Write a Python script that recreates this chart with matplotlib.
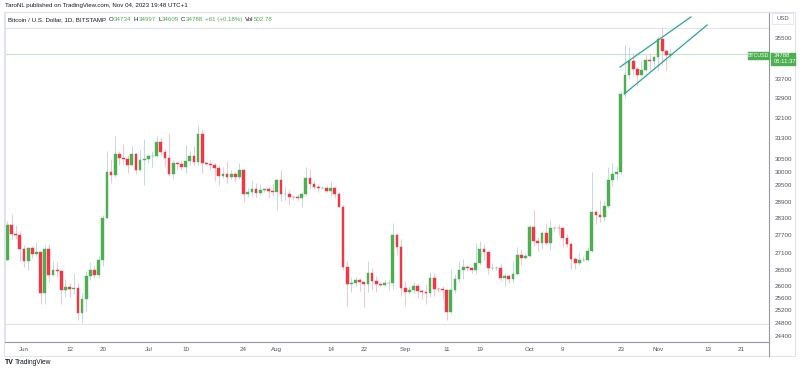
import numpy as np
import pandas as pd
import matplotlib
matplotlib.use('Agg')
import matplotlib.pyplot as plt
import matplotlib.dates as mdates
from matplotlib.patches import Rectangle
from matplotlib.lines import Line2D

plt.rcParams['font.family'] = ['Liberation Sans', 'DejaVu Sans']

# BTCUSD daily, Bitstamp, 28 May - 4 Nov 2023
dates = pd.date_range('2023-05-28', '2023-11-04', freq='D')

opens = [
    26860, 28070, 27740, 27700,
    27210, 26830, 27250, 27070, 27120, 25750, 27240, 26350, 26500, 26480,
    25850, 25940, 25900, 25920, 25130, 25580, 26330, 26510, 26340, 26850,
    28310, 30000, 29890, 30690, 30530, 30470, 30270, 30690, 30080, 30450,
    30480, 30590, 30620, 31160, 30770, 30510, 29900, 30350, 30290, 30170,
    30410, 30620, 30390, 31470, 30320, 30290, 30250, 30140, 29860, 29910,
    29800, 29910, 29800, 30080, 29180, 29230, 29350, 29210, 29320, 29350, 29280,
    29230, 29700, 29180, 29180, 29080, 29050, 29040, 29180, 29770, 29560,
    29430, 29400, 29410, 29290, 29400, 29170, 28700, 26620, 26050, 26100,
    26190, 26120, 26040, 26430, 26160, 26060, 26010, 26090, 26100, 27720, 27300,
    25930, 25800, 25870, 25970, 25810, 25780, 25750, 26240, 25900, 25890,
    25840, 25150, 25840, 26230, 26530, 26610, 26570, 26530, 26760, 27210,
    27130, 26570, 26580, 26580, 26250, 26300, 26220, 26370, 27020, 26910,
    26970, 27990, 27500, 27430, 27790, 27420, 27950, 27970, 27940, 27590,
    27390, 26870, 26760, 26860, 26860, 27160, 28520, 28410, 28330, 28720,
    29680, 29920, 30000, 33080, 33900, 34500, 34150, 33900, 34090, 34530, 34500,
    34660, 35440, 34940, 34734,
]
highs = [
    28200, 28450, 28050, 27830,
    27350, 27300, 27330, 27450, 27130, 27350, 27380, 26800, 26780, 26530,
    26210, 26080, 26420, 26080, 25750, 26480, 26770, 26680, 26990, 28400,
    30800, 30500, 31400, 30810, 31050, 30650, 31000, 30700, 30830, 31280,
    30660, 30790, 31380, 31330, 30880, 31500, 30440, 30380, 30440, 31030,
    30800, 30980, 31820, 31640, 30390, 30450, 30340, 30250, 30190, 30410,
    30050, 29990, 30350, 30100, 29380, 29690, 29570, 29530, 29410, 29450, 29530,
    29740, 30050, 29420, 29310, 29110, 29170, 29250, 30180, 30100, 29710,
    29540, 29480, 29460, 29670, 29450, 29240, 28780, 26800, 26270, 26290,
    26250, 26130, 26800, 26570, 26300, 26100, 26170, 26230, 28120, 27760, 27570,
    26150, 25970, 26120, 26100, 25880, 26040, 26440, 26420, 25940, 25990,
    25880, 26560, 26390, 26820, 26890, 26670, 26620, 27420, 27490, 27380,
    27160, 26740, 26640, 26730, 26430, 26390, 26830, 27300, 27230, 27090,
    28060, 28590, 27650, 27830, 28130, 28240, 28040, 28110, 27990, 27730,
    27480, 26950, 27100, 26980, 27290, 30000, 28610, 28970, 28920, 30200,
    30340, 30210, 33200, 35200, 35100, 34830, 34230, 34480, 34750, 34850, 34720,
    35580, 35980, 34960, 34997,
]
lows = [
    26800, 27560, 27570, 26820,
    26600, 26510, 26920, 26970, 25400, 25390, 26130, 26320, 26290, 25400,
    25620, 25640, 25730, 24900, 24800, 25170, 26170, 26260, 26260, 26650,
    28270, 29580, 29810, 30250, 30300, 29950, 30220, 29900, 30040, 29500,
    30330, 30180, 30580, 30650, 30210, 29860, 29720, 30050, 30080, 29950,
    30270, 30210, 30250, 29950, 30250, 30070, 29660, 29520, 29750, 29570,
    29720, 29640, 29740, 28890, 29050, 29110, 29080, 29120, 29260, 29030, 29100,
    28580, 28930, 28960, 28760, 28960, 28970, 28700, 29110, 29370, 29350,
    29250, 29370, 29250, 29100, 29040, 28700, 26500, 25350, 25800, 26000,
    25820, 25300, 25790, 25860, 25780, 25980, 25970, 25860, 25900, 27020, 25660,
    25330, 25710, 25770, 25600, 25580, 25390, 25630, 25650, 25800, 25590,
    24900, 25130, 25770, 26130, 26230, 26480, 26420, 26390, 26690, 26840,
    26370, 26500, 26520, 26160, 26000, 26090, 26110, 26340, 26690, 26880,
    26950, 27330, 27150, 27230, 27370, 27180, 27860, 27700, 27300, 27300,
    26560, 26560, 26690, 26810, 26820, 27120, 28100, 28150, 28190, 28650,
    29470, 29700, 29900, 32900, 33700, 33900, 33400, 33870, 34050, 34070, 34090,
    34100, 34320, 34120, 34609,
]
closes = [
    28070, 27740, 27700, 27210,
    26830, 27250, 27070, 27120, 25750, 27240, 26350, 26500, 26480, 25850,
    25940, 25900, 25920, 25130, 25580, 26330, 26510, 26340, 26850, 28310,
    30000, 29890, 30690, 30530, 30470, 30270, 30690, 30080, 30450, 30480,
    30590, 30620, 31160, 30770, 30510, 29900, 30350, 30290, 30170, 30410,
    30620, 30390, 31470, 30320, 30290, 30250, 30140, 29860, 29910, 29800,
    29910, 29800, 30080, 29180, 29230, 29350, 29210, 29320, 29350, 29280, 29230,
    29700, 29180, 29180, 29080, 29050, 29040, 29180, 29770, 29560, 29430,
    29400, 29410, 29290, 29400, 29170, 28700, 26620, 26050, 26100, 26190,
    26120, 26040, 26430, 26160, 26060, 26010, 26090, 26100, 27720, 27300, 25930,
    25800, 25870, 25970, 25810, 25780, 25750, 26240, 25900, 25890, 25840,
    25150, 25840, 26230, 26530, 26610, 26570, 26530, 26760, 27210, 27130,
    26570, 26580, 26580, 26250, 26300, 26220, 26370, 27020, 26910, 26970,
    27990, 27500, 27430, 27790, 27420, 27950, 27970, 27940, 27590, 27390,
    26870, 26760, 26860, 26860, 27160, 28520, 28410, 28330, 28720, 29680,
    29920, 30000, 33080, 33900, 34500, 34150, 33900, 34090, 34530, 34500, 34660,
    35440, 34940, 34730, 34788,
]

# price axis labels (log scale)
price_ticks = [35500, 33700, 32900, 32100, 31300, 30500, 30000, 29500, 28900,
               28300, 27700, 27100, 26500, 26000, 25600, 25200, 24800, 24400]
# time axis labels
time_ticks = ['2023-06-01', '2023-06-12', '2023-06-20', '2023-07-01', '2023-07-10',
              '2023-07-24', '2023-08-01', '2023-08-14', '2023-08-22', '2023-09-01',
              '2023-09-11', '2023-09-19', '2023-10-01', '2023-10-09', '2023-10-23',
              '2023-11-01', '2023-11-13', '2023-11-21']
time_labels = ['Jun', '12', '20', 'Jul', '10', '24', 'Aug', '14', '22', 'Sep',
               '11', '19', 'Oct', '9', '23', 'Nov', '13', '21']

# drawings: rising channel + horizontal levels
chan_upper_d = ['2023-10-22 20:00', '2023-11-08 22:00']
chan_upper_p = [34230, 36450]
chan_lower_d = ['2023-10-23 20:00', '2023-11-12 20:00']
chan_lower_p = [33085, 36085]
levels = [35950, 24760]
last_price = 34788

W, H = 800, 370
fig = plt.figure(figsize=(8, 3.7), dpi=100)


def fx(px):
    return px / W


def fy(py):
    return 1 - py / H


ax = fig.add_axes([fx(5), fy(342), fx(769) - fx(5), fy(12) - fy(342)])

x = mdates.date2num(dates)
o = np.array(opens, float)
h = np.array(highs, float)
l = np.array(lows, float)
c = np.array(closes, float)
up = c >= o
wick_col = np.where(up, '#c2dbe3', '#f9c4c8')
body_col = np.where(up, '#4caf50', '#f23645')

for lv in levels:
    ax.axhline(lv, color='#e0e3eb', lw=0.8, zorder=0)
ax.axhline(last_price, color='#c8e6c9', lw=0.8, zorder=0)

ax.vlines(x, l, h, colors=wick_col, linewidth=0.7, zorder=1)
ax.bar(x, np.abs(c - o), bottom=np.minimum(o, c), width=0.66,
       color=body_col, edgecolor=body_col, linewidth=0.3, zorder=2)

ax.plot(mdates.date2num(pd.to_datetime(chan_upper_d)), chan_upper_p,
        color='#26a69a', lw=0.9, zorder=3)
ax.plot(mdates.date2num(pd.to_datetime(chan_lower_d)), chan_lower_p,
        color='#26a69a', lw=0.9, zorder=3)

ax.set_yscale('log')
ax.set_ylim(24218, 36680)
x0 = mdates.date2num(pd.Timestamp('2023-05-28')) - 0.585
ax.set_xlim(x0, x0 + 184.36)

ax.yaxis.tick_right()
ax.yaxis.set_minor_locator(matplotlib.ticker.NullLocator())
ax.set_yticks(price_ticks)
ax.set_yticklabels([str(p) for p in price_ticks])
ax.tick_params(axis='y', length=0, pad=4, labelsize=4.5, labelcolor='#50535e')

ax.set_xticks(mdates.date2num(pd.to_datetime(time_ticks)))
ax.set_xticklabels(time_labels)
ax.tick_params(axis='x', length=0, pad=3.5, labelsize=4.5, labelcolor='#50535e')

for s in ['left', 'top']:
    ax.spines[s].set_color('#e0e3eb')
    ax.spines[s].set_linewidth(0.8)
for s in ['right', 'bottom']:
    ax.spines[s].set_color('#9598a1')
    ax.spines[s].set_linewidth(0.8)

# outer frame of the widget
fig.add_artist(Rectangle((fx(4), fy(356)), fx(791), 344 / H, fill=False,
                         edgecolor='#e0e3eb', lw=0.8))
fig.add_artist(Line2D([fx(769), fx(769)], [fy(342), fy(356)], color='#9598a1', lw=0.8))

# price box for last value
fig.add_artist(Rectangle((fx(771), fy(65)), fx(24), 12.5 / H, color='#4caf50', zorder=5))
fig.text(fx(774), fy(55.8), '34788', color='white', fontsize=4.2, va='center', zorder=6)
fig.text(fx(774), fy(61.5), '05:11:37', color='white', fontsize=4.2, va='center', zorder=6)
fig.add_artist(Rectangle((fx(748), fy(59)), fx(21), 6.5 / H, color='#4caf50', zorder=5))
fig.text(fx(758.5), fy(55.8), 'BTCUSD', color='white', fontsize=3.8, va='center',
         ha='center', zorder=6)

# USD box
fig.add_artist(Rectangle((fx(772), fy(24)), fx(21), 11 / H, facecolor='white',
                         edgecolor='#e0e3eb', lw=0.6, zorder=5))
fig.text(fx(782.5), fy(18.5), 'USD', color='#50535e', fontsize=4.2, va='center',
         ha='center', zorder=6)

# header texts
fig.text(fx(5), fy(6), 'TaroNL published on TradingView.com, Nov 04, 2023 19:48 UTC+1',
         color='#131722', fontsize=4.45, va='center')

renderer = fig.canvas.get_renderer()
gray = '#131722'
green = '#4caf50'
pieces = [('Bitcoin / U.S. Dollar, 1D, BITSTAMP', gray, 3), ('O', gray, 0), ('34734', green, 2.5),
          ('H', gray, 0), ('34997', green, 2.5), ('L', gray, 0), ('34609', green, 2.5),
          ('C', gray, 0), ('34788', green, 2.5), ('+61 (+0.18%)', green, 2.5),
          ('Vol', gray, 0), ('502.78', green, 0)]
xp = 8
for s, col, gap in pieces:
    t = fig.text(fx(xp), fy(19.5), s, color=col, fontsize=4.45, va='center')
    xp += t.get_window_extent(renderer=renderer).width + gap

fig.text(fx(5), fy(362.5), 'TV', color='#131722', fontsize=5, weight='bold', va='center')
fig.text(fx(15), fy(362.5), 'TradingView', color='#131722', fontsize=4.8, va='center')

fig.savefig('out.png', dpi=100, facecolor='white')
